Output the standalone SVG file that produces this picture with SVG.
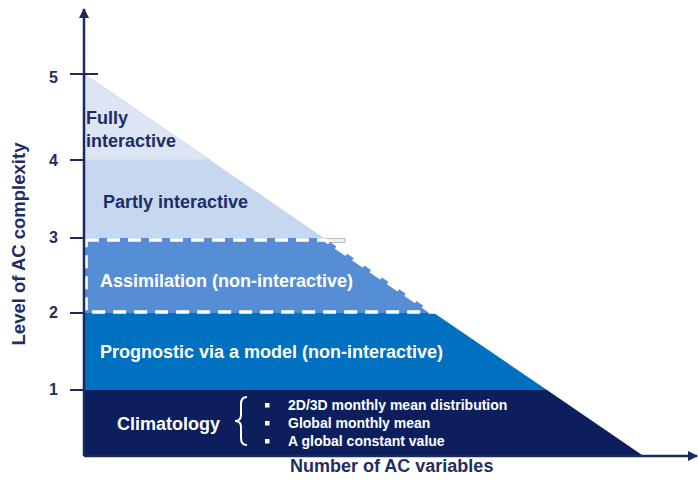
<svg xmlns="http://www.w3.org/2000/svg" width="698" height="482" viewBox="0 0 698 482">
  <defs>
    <style>
      .t { font-family: "Liberation Sans", Arial, sans-serif; font-weight: bold; }
      .navy { fill: #1f2d63; }
      .white { fill: #ffffff; }
      .num { font-size: 16px; text-anchor: end; }
      .lbl { font-size: 18px; }
      .bul { font-size: 14px; }
      .axis { stroke: #1b2a60; stroke-width: 2.5; fill: none; }
      .tick { stroke: #1b2a60; stroke-width: 2; }
    </style>
    <marker id="arr" viewBox="0 0 10 10" refX="9" refY="5" markerWidth="4" markerHeight="4" orient="auto" markerUnits="strokeWidth">
      <path d="M0,0 L10,5 L0,10 Z" fill="#1b2a60"/>
    </marker>
  </defs>
  <rect width="698" height="482" fill="#ffffff"/>

  <g id="bands">
    <g id="fully">
      <path d="M84,74 L210,160 L84,160 Z" fill="#dbe5f3" stroke="#c9d3e0" stroke-width="0.8"/>
    </g>
    <g id="partly">
      <path d="M84,160 L210,160 L324,238 L84,238 Z" fill="#c6d8ef"/>
      <rect x="326" y="238.5" width="19" height="4" fill="#eef2f8" stroke="#a9adb3" stroke-width="0.8"/>
    </g>
    <g id="assimilation">
      <path d="M84,238 L324,238 L434,313 L84,313 Z" fill="#558ed5"/>
    </g>
    <g id="prognostic">
      <path d="M84,313 L434,313 L547,390 L84,390 Z" fill="#0070c0"/>
    </g>
    <g id="climatology">
      <path d="M84,390 L547,390 L642,455 L84,455 Z" fill="#0c1f5c"/>
    </g>
  </g>

  <g id="dashed-box">
    <path d="M86,240 L325,240 L431,312 L86,312 Z" fill="none" stroke="#ffffff" stroke-width="3.5" stroke-dasharray="13,8"/>
  </g>

  <g id="connectors">
    <line class="axis" x1="84" y1="456" x2="84" y2="9" marker-end="url(#arr)"/>
    <line class="axis" x1="84" y1="456" x2="697" y2="456" marker-end="url(#arr)"/>
    <line class="tick" x1="70" y1="74" x2="98" y2="74"/>
    <line class="tick" x1="70" y1="160" x2="84" y2="160"/>
    <line class="tick" x1="70" y1="238" x2="84" y2="238"/>
    <line class="tick" x1="70" y1="313" x2="84" y2="313"/>
    <line class="tick" x1="70" y1="390" x2="84" y2="390"/>
  </g>

  <g id="ticks-labels">
    <text class="t navy num" x="58" y="83">5</text>
    <text class="t navy num" x="58" y="166">4</text>
    <text class="t navy num" x="58" y="243">3</text>
    <text class="t navy num" x="58" y="318">2</text>
    <text class="t navy num" x="58" y="395">1</text>
  </g>

  <g id="labels">
    <text class="t navy lbl" x="86" y="124">Fully</text>
    <text class="t navy lbl" x="86" y="147">interactive</text>
    <text class="t navy lbl" x="103" y="208">Partly interactive</text>
    <text class="t white lbl" x="100" y="287">Assimilation (non-interactive)</text>
    <text class="t white lbl" x="100" y="358">Prognostic via a model (non-interactive)</text>
    <text class="t white lbl" x="117" y="430">Climatology</text>
    <path d="M247,397 Q241,397 241,404 L241,415 Q241,421 235,421 Q241,421 241,427 L241,438 Q241,445 247,445" fill="none" stroke="#ffffff" stroke-width="2"/>
    <rect x="265" y="403" width="4.5" height="4.5" fill="#ffffff"/>
    <rect x="265" y="421" width="4.5" height="4.5" fill="#ffffff"/>
    <rect x="265" y="439" width="4.5" height="4.5" fill="#ffffff"/>
    <text class="t white bul" x="288" y="410">2D/3D monthly mean distribution</text>
    <text class="t white bul" x="288" y="428">Global monthly mean</text>
    <text class="t white bul" x="288" y="446">A global constant value</text>
  </g>

  <g id="axis-titles">
    <text class="t navy lbl" x="290" y="472">Number of AC variables</text>
    <text class="t navy" transform="translate(25,244) rotate(-90)" text-anchor="middle" font-size="18.5">Level of AC complexity</text>
  </g>
</svg>
